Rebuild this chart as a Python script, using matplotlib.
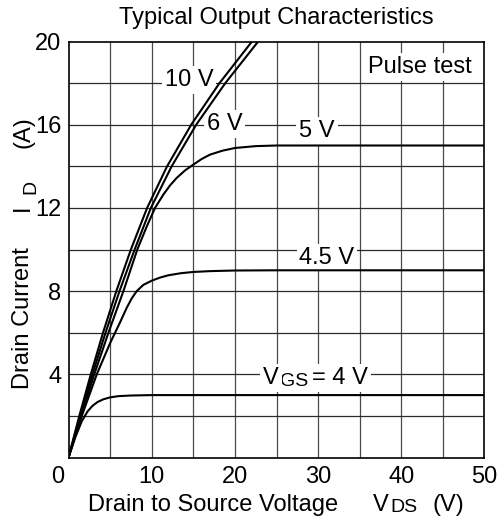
import matplotlib
matplotlib.use("Agg")
import matplotlib.pyplot as plt

plt.rcParams['font.family'] = ['Liberation Sans', 'DejaVu Sans']

# ---- data ----
i10 = [0, 2, 4, 6, 8, 10, 12, 14, 16, 18, 20]
v10 = [0, 1.3, 2.68, 4.15, 5.75, 7.5, 9.45, 11.85, 14.75, 18.15, 22.05]

i6 = [0, 2, 4, 6, 8, 10, 12, 14, 16, 18, 20]
v6 = [0, 1.4, 2.88, 4.45, 6.13, 7.95, 9.9, 12.4, 15.35, 18.85, 22.8]

v5 = [0, 1.5, 3.1, 4.8, 6.6, 8.27, 9.4, 10.4, 11.4, 12.2, 13.0, 14.0, 15.0, 16.0,
      17.0, 18.5, 20.0, 22.5, 25.0, 50.0]
i5 = [0, 2, 4, 6, 8, 10, 11.1, 12, 12.64, 13.08, 13.44, 13.8, 14.08, 14.35,
      14.56, 14.75, 14.88, 14.97, 15.0, 15.0]

v45 = [0, 1.6, 3.4, 5.0, 6.2, 7.0, 7.6, 8.2, 9.0, 10.0, 11.0, 12.0, 13.5, 15.0,
       17.0, 20.0, 25.0, 50.0]
i45 = [0, 2, 4, 5.5, 6.5, 7.2, 7.65, 8.0, 8.3, 8.5, 8.65, 8.76, 8.86, 8.92,
       8.96, 8.99, 9.0, 9.0]

v4 = [0, 0.8, 1.6, 2.3, 2.9, 3.5, 4.2, 5.0, 6.0, 7.5, 10.0, 50.0]
i4 = [0, 0.95, 1.75, 2.22, 2.49, 2.67, 2.8, 2.89, 2.95, 2.98, 3.0, 3.0]

xticks = [0, 10, 20, 30, 40, 50]
yticks = [4, 8, 12, 16, 20]

W, H = 499, 523
L, B, R, T = 68.5, 457.5, 484.5, 41.5
fig = plt.figure(figsize=(W / 100, H / 100), dpi=100)
ax = fig.add_axes([L / W, 1 - B / H, (R - L) / W, (B - T) / H])
ax.set_xlim(0, 50)
ax.set_ylim(0, 20)

for xv in range(5, 50, 5):
    ax.axvline(xv, color='#4a4a4a', lw=0.9, zorder=1)
for yv in range(2, 20, 2):
    ax.axhline(yv, color='#2a2a2a', lw=0.9, zorder=1)

for vv, ii in [(v10, i10), (v6, i6), (v5, i5), (v45, i45), (v4, i4)]:
    ax.plot(vv, ii, color='black', lw=1.5, zorder=3, solid_joinstyle='round')

for s in ax.spines.values():
    s.set_linewidth(1.2)
    s.set_color('black')

FS = 17
SUB = 14
ax.set_xticks([])
ax.set_yticks(yticks)
ax.tick_params(length=0, labelsize=FS)
ax.tick_params(axis='y', pad=5)

# x tick labels (the corner 0 sits left of the origin)
for xv in xticks:
    px = L + xv / 50 * (R - L)
    if xv == 0:
        px = 57.5
    fig.text(px / W, 1 - 477 / H, str(xv), fontsize=FS, ha='center', va='center')


def px2data(px, py):
    return (px - L) / (R - L) * 50, (B - py) / (B - T) * 20


box = dict(facecolor='white', edgecolor='none', pad=2.0)


def label(px, py, s, size=FS, ha='center', z=2):
    x, y = px2data(px, py)
    ax.text(x, y, s, fontsize=size, ha=ha, va='center', bbox=box, zorder=z)


label(189, 80, '10 V')
label(224.5, 124, '6 V')
label(317, 131, '5 V')
label(327, 257.5, '4.5 V')
label(420, 67, 'Pulse test')
label(280, 381, 'GS', size=SUB, ha='left', z=2.0)
label(263, 378, 'V', ha='left', z=2.2)
label(312.5, 378, '= 4 V', ha='left', z=2.1)

# title
fig.text(276 / W, 1 - 18 / H, 'Typical Output Characteristics', fontsize=FS,
         ha='center', va='center')

# x label pieces
yl = 1 - 505 / H
fig.text(88 / W, yl, 'Drain to Source Voltage', fontsize=FS, ha='left', va='center')
fig.text(373 / W, yl, 'V', fontsize=FS, ha='left', va='center')
fig.text(390 / W, 1 - 508 / H, 'DS', fontsize=SUB, ha='left', va='center')
fig.text(433 / W, yl, '(V)', fontsize=FS, ha='left', va='center')

# y label pieces (rotated)
xl = 23 / W
fig.text(xl, 1 - 318 / H, 'Drain Current', fontsize=FS, rotation=90, ha='center', va='center')
fig.text(xl, 1 - 207.5 / H, 'I', fontsize=FS, rotation=90, ha='center', va='center')
fig.text(31 / W, 1 - 186.5 / H, 'D', fontsize=SUB, rotation=90, ha='center', va='center')
fig.text(xl, 1 - 132.5 / H, '(A)', fontsize=FS, rotation=90, ha='center', va='center')

fig.savefig('out.png', dpi=100)
